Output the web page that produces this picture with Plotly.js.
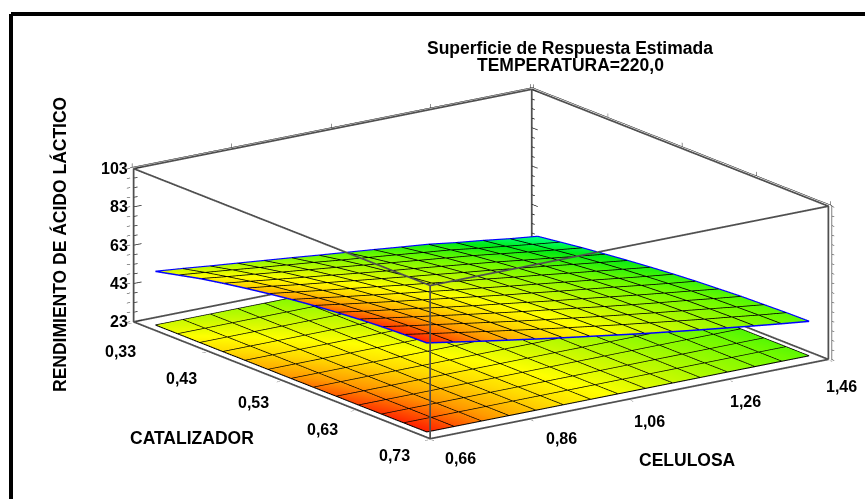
<!DOCTYPE html>
<html><head><meta charset="utf-8">
<script src="https://cdn.plot.ly/plotly-3.0.1.min.js"></script>
<style>html,body{margin:0;padding:0;background:#fff}#c{width:865px;height:499px}</style>
</head><body><div id="c"></div>
<script>
const titleLines = ['Superficie de Respuesta Estimada', 'TEMPERATURA=220,0'];
const catalizador = [0.348,0.378,0.408,0.439,0.469,0.5,0.531,0.561,0.592,0.622,0.653,0.683,0.714];
const celulosa = [0.677,0.732,0.787,0.842,0.896,0.951,1.006,1.061,1.116,1.171,1.226,1.281,1.336,1.39,1.445];
const rendimiento = [
[51,53.7,56.4,58.7,60.7,62.6,64.3,65.7,66.9,67.9,68.7,69.2,69.5],
[49.6,52.2,54.6,56.9,58.9,60.6,62.2,63.5,64.6,65.6,66.3,66.8,67.1],
[48.1,50.7,53,55.1,56.9,58.6,60.1,61.4,62.5,63.4,64.1,64.5,64.7],
[46.7,49.1,51.3,53.3,55.1,56.7,58.1,59.3,60.4,61.2,61.8,62.2,62.4],
[45.3,47.6,49.7,51.6,53.3,54.9,56.1,57.3,58.2,59,59.6,60,60.2],
[43.9,46.1,48.1,49.8,51.5,52.9,54.2,55.3,56.1,56.9,57.4,57.8,58],
[42.4,44.5,46.4,48.1,49.7,51.1,52.2,53.3,54.2,54.8,55.3,55.7,55.9],
[41,43,44.8,46.5,48,49.2,50.4,51.3,52.2,52.9,53.3,53.6,53.8],
[39.6,41.5,43.2,44.8,46.2,47.5,48.5,49.5,50.2,50.9,51.3,51.6,51.7],
[38.1,39.9,41.6,43.1,44.5,45.6,46.7,47.6,48.4,48.9,49.4,49.7,49.8],
[36.7,38.4,40,41.4,42.7,43.9,44.9,45.8,46.5,47,47.5,47.8,47.9],
[34.7,36.4,38.1,39.5,40.9,42,43.1,44,44.6,45.2,45.7,45.9,46.1],
[33,34.6,36.2,37.7,39,40.2,41.2,42.1,42.8,43.5,43.9,44.2,44.3],
[31.1,32.8,34.4,35.9,37.2,38.4,39.4,40.3,41.1,41.7,42.1,42.4,42.6],
[29.5,31.1,32.7,34.1,35.4,36.6,37.7,38.6,39.3,40,40.4,40.8,41]
];
const floorLevel = 23.1;
const catTicks = [0.33,0.43,0.53,0.63,0.73];
const catLabels = ['0,33','0,43','0,53','0,63','0,73'];
const celTicks = [0.66,0.86,1.06,1.26,1.46];
const celLabels = ['0,66','0,86','1,06','1,26','1,46'];
const zTicks = [23,43,63,83,103];
const zLabels = ['23','43','63','83','103'];
const zMinorTicks = [23,28,33,38,43,48,53,58,63,68,73,78,83,88,93,98,103];

const catShift = [[-13,30],[-26,27],[-28,22],[-33,20],[-36,17]];
const celShift = [[30,20],[32,20],[20,22],[17,22],[13,27]];

const colors = [[0,'rgb(0,255,120)'],[0.12,'rgb(0,235,20)'],[0.3,'rgb(110,250,0)'],[0.53,'rgb(215,250,0)'],[0.62,'rgb(255,255,0)'],[0.72,'rgb(255,220,0)'],[0.85,'rgb(255,155,0)'],[1,'rgb(255,30,0)']];
const light = {ambient:1,diffuse:0,specular:0,roughness:1,fresnel:0};
const nx = catalizador.length, ny = celulosa.length;
const surf = (zs) => ({type:'surface',x:catalizador,y:celulosa,z:zs,surfacecolor:rendimiento,
  cmin:30,cmax:69.5,colorscale:colors,showscale:false,lighting:light,hoverinfo:'skip'});
const floorZ = rendimiento.map(r=>r.map(()=>floorLevel));

const seg = (xs,ys,zs,color,width) => ({type:'scatter3d',mode:'lines',x:xs,y:ys,z:zs,connectgaps:false,
  line:{color:color,width:width},hoverinfo:'skip',showlegend:false});
const meshLines = (zs,lift) => {
  const a=[],b=[],c=[];
  for(let j=0;j<ny;j++){for(let i=0;i<nx;i++){a.push(catalizador[i]);b.push(celulosa[j]);c.push(zs[j][i]+lift);}a.push(null);b.push(null);c.push(null);}
  for(let i=0;i<nx;i++){for(let j=0;j<ny;j++){a.push(catalizador[i]);b.push(celulosa[j]);c.push(zs[j][i]+lift);}a.push(null);b.push(null);c.push(null);}
  return seg(a,b,c,'#000',2);
};

const ex=[],ey=[],ez=[];
for(let i=0;i<nx;i++){ex.push(catalizador[i]);ey.push(celulosa[0]);ez.push(rendimiento[0][i]+0.2);}
for(let j=0;j<ny;j++){ex.push(catalizador[nx-1]);ey.push(celulosa[j]);ez.push(rendimiento[j][nx-1]+0.2);}
for(let i=nx-1;i>=0;i--){ex.push(catalizador[i]);ey.push(celulosa[ny-1]);ez.push(rendimiento[ny-1][i]+0.2);}
for(let j=ny-1;j>=0;j--){ex.push(catalizador[0]);ey.push(celulosa[j]);ez.push(rendimiento[j][0]+0.2);}
const edge = seg(ex,ey,ez,'#0000ff',3);

const x0=catTicks[0],x1=catTicks[4],y0=celTicks[0],y1=celTicks[4],z0=zTicks[0],z1=zTicks[4];
const boxPath = [[x0,y0,z0],[x1,y0,z0],[x1,y1,z0],[x0,y1,z0],[x0,y0,z0],[x0,y0,z1],[x1,y0,z1],[x1,y0,z0],[x1,y0,z1],
  [x1,y1,z1],[x1,y1,z0],[x1,y1,z1],[x0,y1,z1],[x0,y1,z0],[x0,y1,z1],[x0,y0,z1]];
const box = seg(boxPath.map(p=>p[0]),boxPath.map(p=>p[1]),boxPath.map(p=>p[2]),'#505050',3.5);

const tA=[],tB=[],tC=[];
zMinorTicks.forEach(v=>{
  const major=zTicks.includes(v), dy=major?0.016:0.008, dx=major?0.008:0.004;
  tA.push(x0,x0,null); tB.push(y0,y0+dy,null); tC.push(v,v,null);
  tA.push(x0,x0+dx,null); tB.push(y1,y1,null); tC.push(v,v,null);
});
const uprightTicks = seg(tA,tB,tC,'#222',1.5);

const ax = (range,vals) => ({range:range,tickmode:'array',tickvals:vals,showticklabels:false,
  showgrid:false,zeroline:false,showbackground:false,showspikes:false,showline:false,
  mirror:'all',ticks:'outside',ticklen:4,tickcolor:'#222',title:{text:''}});
const fam='Liberation Sans, Arial, sans-serif';
const label = (t,x,y,size,angle)=>({text:'<b>'+t+'</b>',xref:'paper',yref:'paper',x:x/865,y:1-y/499,xanchor:'center',yanchor:'middle',
  showarrow:false,textangle:angle||0,font:{family:fam,size:size,color:'#000'}});
const tickNote=(t,x,y,z,sx,sy,anchor)=>({text:'<b>'+t+'</b>',x:x,y:y,z:z,showarrow:false,xanchor:anchor||'center',yanchor:'middle',xshift:sx,yshift:-sy,font:{family:fam,size:16,color:'#000'}});
const sceneNotes=[
  ...catTicks.map((v,i)=>tickNote(catLabels[i],v,y0,z0,catShift[i][0],catShift[i][1])),
  ...celTicks.map((v,i)=>tickNote(celLabels[i],x1,v,z0,celShift[i][0],celShift[i][1])),
  ...zTicks.map((v,i)=>tickNote(zLabels[i],x0,y0,v,-3,0,'right'))
];
const layout = {
  width:865,height:499,margin:{l:0,r:0,t:0,b:0},paper_bgcolor:'#fff',showlegend:false,
  scene:{domain:{x:[0.112,1],y:[0,0.942]},
    xaxis:ax([x0-0.002,x1+0.002],catTicks),
    yaxis:ax([y0-0.004,y1+0.004],celTicks),
    zaxis:ax([z0-0.4,z1+0.4],zMinorTicks),
    aspectmode:'manual',aspectratio:{x:2.2,y:2.1,z:0.686},
    camera:{projection:{type:'orthographic'},up:{x:0,y:0,z:1},center:{x:0,y:0,z:0},eye:{x:1.564,y:-1.112,z:0.56}},
    annotations:sceneNotes
  },
  annotations:[label(titleLines[0],570,48,17.5),label(titleLines[1],570,65,17.5),
    label('CATALIZADOR',192,438,17.5),label('CELULOSA',687,460,17.5),label('RENDIMIENTO DE ÁCIDO LÁCTICO',60,245,17.5,-90)],
  shapes:[{type:'line',xref:'paper',yref:'paper',x0:11/865,x1:1,y0:1-14/499,y1:1-14/499,line:{color:'#000',width:4}},
          {type:'line',xref:'paper',yref:'paper',x0:11/865,x1:11/865,y0:0,y1:1-14/499,line:{color:'#000',width:4}}]
};
Plotly.newPlot('c',[surf(floorZ),surf(rendimiento),meshLines(floorZ,0.1),meshLines(rendimiento,0.15),edge,box,uprightTicks],layout,{displayModeBar:false});
</script></body></html>
